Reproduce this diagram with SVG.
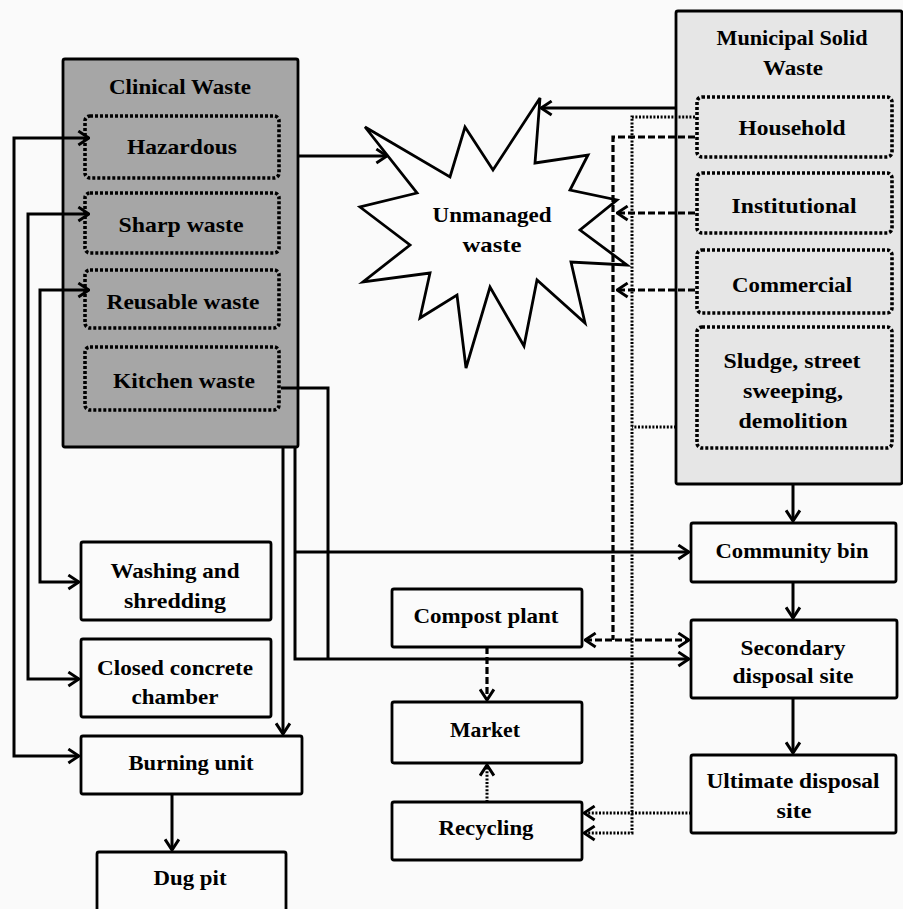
<svg xmlns="http://www.w3.org/2000/svg" width="903" height="909" viewBox="0 0 903 909">
<style>
.t{font-family:"Liberation Serif","Times New Roman",serif;font-weight:bold;font-size:21px;text-anchor:middle;fill:#000}
.box{fill:#fbfbfb;stroke:#000;stroke-width:2.8}
.inner{stroke:#000;stroke-width:3.6;stroke-dasharray:3 2}
.s{fill:none;stroke:#000;stroke-width:3}
.d{fill:none;stroke:#000;stroke-width:3.2;stroke-dasharray:7 3}
.o{fill:none;stroke:#000;stroke-width:3;stroke-dasharray:2 1.6}
</style>
<defs>
<marker id="a" viewBox="0 0 12 16" refX="11" refY="8" markerWidth="13" markerHeight="17" markerUnits="userSpaceOnUse" orient="auto-start-reverse">
<path d="M1,1.5 L11,8 L1,14.5" fill="none" stroke="#000" stroke-width="2.8"/>
</marker>
</defs>
<rect x="0" y="0" width="903" height="909" fill="#fafafa"/>

<g id="clinical">
<rect x="63" y="59" width="235" height="388" rx="2" fill="#a6a6a6" stroke="#000" stroke-width="2.8"/>
<text class="t" x="180" y="94" textLength="142" lengthAdjust="spacingAndGlyphs">Clinical Waste</text>
</g>
<g id="hazardous">
<rect class="inner" x="85" y="116" width="194" height="62" rx="5" fill="#a6a6a6"/>
<text class="t" x="182" y="154" textLength="110" lengthAdjust="spacingAndGlyphs">Hazardous</text>
</g>
<g id="sharp">
<rect class="inner" x="85" y="193" width="194" height="60" rx="5" fill="#a6a6a6"/>
<text class="t" x="181" y="232" textLength="125" lengthAdjust="spacingAndGlyphs">Sharp waste</text>
</g>
<g id="reusable">
<rect class="inner" x="85" y="270" width="194" height="58" rx="5" fill="#a6a6a6"/>
<text class="t" x="183" y="309" textLength="153" lengthAdjust="spacingAndGlyphs">Reusable waste</text>
</g>
<g id="kitchen">
<rect class="inner" x="85" y="347" width="194" height="63" rx="5" fill="#a6a6a6"/>
<text class="t" x="184" y="388" textLength="142" lengthAdjust="spacingAndGlyphs">Kitchen waste</text>
</g>

<g id="msw">
<rect x="676" y="11" width="226" height="473" rx="2" fill="#e6e6e6" stroke="#000" stroke-width="2.8"/>
<text class="t" x="792" y="45" textLength="151" lengthAdjust="spacingAndGlyphs">Municipal Solid</text>
<text class="t" x="793" y="75" textLength="60" lengthAdjust="spacingAndGlyphs">Waste</text>
</g>
<g id="household">
<rect class="inner" x="697" y="97" width="195" height="60" rx="5" fill="#e6e6e6"/>
<text class="t" x="792" y="135" textLength="107" lengthAdjust="spacingAndGlyphs">Household</text>
</g>
<g id="institutional">
<rect class="inner" x="697" y="173" width="195" height="60" rx="5" fill="#e6e6e6"/>
<text class="t" x="794" y="213" textLength="125" lengthAdjust="spacingAndGlyphs">Institutional</text>
</g>
<g id="commercial">
<rect class="inner" x="697" y="250" width="195" height="63" rx="5" fill="#e6e6e6"/>
<text class="t" x="792" y="292" textLength="120" lengthAdjust="spacingAndGlyphs">Commercial</text>
</g>
<g id="sludge">
<rect class="inner" x="697" y="327" width="195" height="121" rx="5" fill="#e6e6e6"/>
<text class="t" x="792" y="368" textLength="137" lengthAdjust="spacingAndGlyphs">Sludge, street</text>
<text class="t" x="793" y="398" textLength="100" lengthAdjust="spacingAndGlyphs">sweeping,</text>
<text class="t" x="793" y="428" textLength="109" lengthAdjust="spacingAndGlyphs">demolition</text>
</g>

<g id="unmanaged">
<polygon points="365,127 450,177 465,127 493,170 540,98 535,163 588,155 570,190 617,200 580,230 627,265 571,262 585,323 537,280 524,346 490,287 466,368 457,295 420,318 430,273 363,282 410,245 360,207 417,193" fill="#fcfcfc" stroke="#000" stroke-width="2.8" stroke-linejoin="miter"/>
<text class="t" x="492" y="222" textLength="119" lengthAdjust="spacingAndGlyphs">Unmanaged</text>
<text class="t" x="492" y="252" textLength="59" lengthAdjust="spacingAndGlyphs">waste</text>
</g>

<g id="washing">
<rect class="box" x="81" y="542" width="190" height="78" rx="2"/>
<text class="t" x="175" y="578" textLength="129" lengthAdjust="spacingAndGlyphs">Washing and</text>
<text class="t" x="175" y="608" textLength="102" lengthAdjust="spacingAndGlyphs">shredding</text>
</g>
<g id="closed">
<rect class="box" x="81" y="639" width="190" height="78" rx="2"/>
<text class="t" x="175" y="675" textLength="156" lengthAdjust="spacingAndGlyphs">Closed concrete</text>
<text class="t" x="175" y="704" textLength="87" lengthAdjust="spacingAndGlyphs">chamber</text>
</g>
<g id="burning">
<rect class="box" x="81" y="736" width="221" height="58" rx="2"/>
<text class="t" x="191" y="770" textLength="125" lengthAdjust="spacingAndGlyphs">Burning unit</text>
</g>
<g id="dugpit">
<rect class="box" x="97" y="852" width="189" height="62" rx="2"/>
<text class="t" x="190" y="885" textLength="73" lengthAdjust="spacingAndGlyphs">Dug pit</text>
</g>
<g id="compost">
<rect class="box" x="392" y="589" width="190" height="58" rx="2"/>
<text class="t" x="486" y="623" textLength="145" lengthAdjust="spacingAndGlyphs">Compost plant</text>
</g>
<g id="market">
<rect class="box" x="392" y="702" width="190" height="61" rx="2"/>
<text class="t" x="485" y="737" textLength="70" lengthAdjust="spacingAndGlyphs">Market</text>
</g>
<g id="recycling">
<rect class="box" x="392" y="802" width="190" height="58" rx="2"/>
<text class="t" x="486" y="835" textLength="95" lengthAdjust="spacingAndGlyphs">Recycling</text>
</g>
<g id="community">
<rect class="box" x="691" y="523" width="205" height="59" rx="2"/>
<text class="t" x="792" y="558" textLength="153" lengthAdjust="spacingAndGlyphs">Community bin</text>
</g>
<g id="secondary">
<rect class="box" x="691" y="620" width="206" height="78" rx="2"/>
<text class="t" x="793" y="655" textLength="105" lengthAdjust="spacingAndGlyphs">Secondary</text>
<text class="t" x="793" y="683" textLength="121" lengthAdjust="spacingAndGlyphs">disposal site</text>
</g>
<g id="ultimate">
<rect class="box" x="691" y="755" width="205" height="78" rx="2"/>
<text class="t" x="793" y="788" textLength="173" lengthAdjust="spacingAndGlyphs">Ultimate disposal</text>
<text class="t" x="794" y="818" textLength="35" lengthAdjust="spacingAndGlyphs">site</text>
</g>

<g id="connectors">
<path class="s" d="M89,138 H14 V756 H79" marker-start="url(#a)" marker-end="url(#a)"/>
<path class="s" d="M89,214 H28 V679 H79" marker-start="url(#a)" marker-end="url(#a)"/>
<path class="s" d="M89,290 H40 V582 H79" marker-start="url(#a)" marker-end="url(#a)"/>
<path class="s" d="M283,447 V734" marker-end="url(#a)"/>
<path class="s" d="M172,794 V850" marker-end="url(#a)"/>
<path class="s" d="M298,156 H387" marker-end="url(#a)"/>
<path class="s" d="M676,108 H541" marker-end="url(#a)"/>
<path class="s" d="M295,447 V659 H689" marker-end="url(#a)"/>
<path class="s" d="M295,552 H689" marker-end="url(#a)"/>
<path class="s" d="M281,388 H328 V659"/>
<path class="s" d="M793,484 V521" marker-end="url(#a)"/>
<path class="s" d="M793,582 V618" marker-end="url(#a)"/>
<path class="s" d="M793,698 V753" marker-end="url(#a)"/>
<path class="d" d="M695,137 H613 V640"/>
<path class="d" d="M585,640 H689" marker-start="url(#a)" marker-end="url(#a)"/>
<path class="d" d="M695,213 H617" marker-end="url(#a)"/>
<path class="d" d="M695,290 H617" marker-end="url(#a)"/>
<path class="d" d="M487,647 V700" marker-end="url(#a)"/>
<path class="o" d="M695,117 H632 V833 H584" marker-end="url(#a)"/>
<path class="o" d="M676,427 H632"/>
<path class="o" d="M691,813 H584" marker-end="url(#a)"/>
<path class="o" d="M487,802 V765" marker-end="url(#a)"/>
</g>
</svg>
